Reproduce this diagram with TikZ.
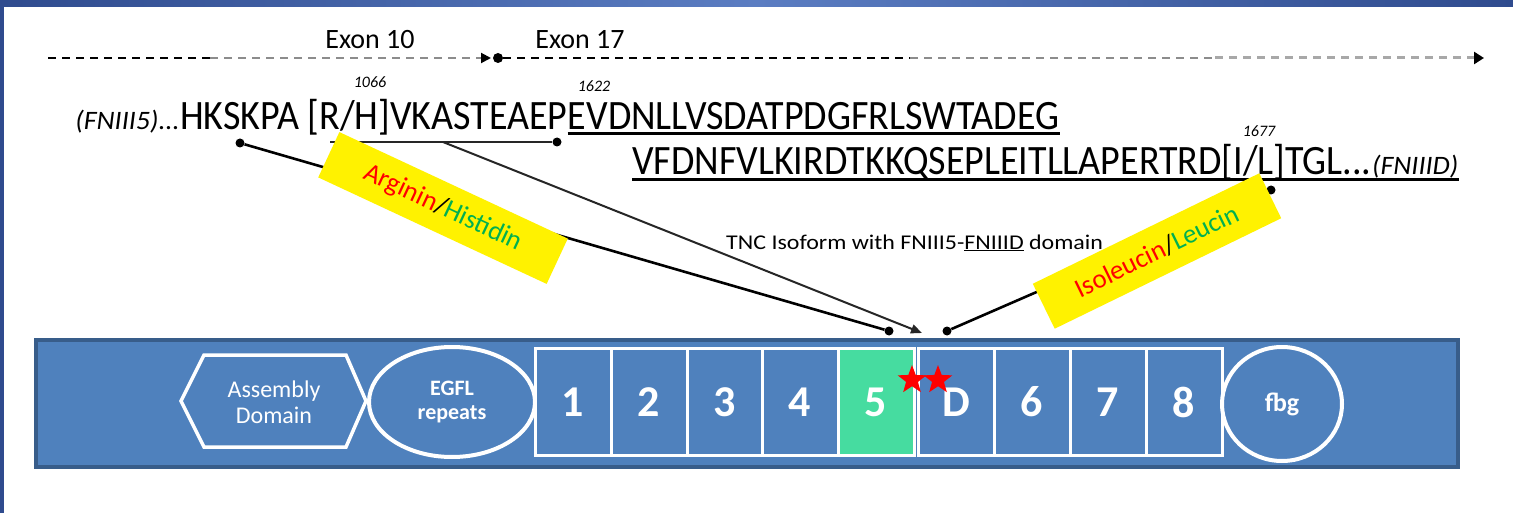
\documentclass[tikz,border=0pt]{standalone}
\usepackage{fontspec}
\setmainfont{Carlito}
\usetikzlibrary{shapes.geometric,arrows.meta}
\definecolor{barblue}{HTML}{4F81BD}
\definecolor{barborder}{HTML}{385D8A}
\definecolor{framedark}{HTML}{2F4B8E}
\definecolor{framelight}{HTML}{5B7DC2}
\definecolor{cellgreen}{HTML}{46DCA0}
\definecolor{hisgreen}{HTML}{00B050}
\definecolor{dashgray}{HTML}{8C8C8C}
\definecolor{dashlight}{HTML}{A8A8A8}
\newcommand{\fsz}[1]{\fontsize{#1}{#1}\selectfont}
\begin{document}
\begin{tikzpicture}[x=1pt,y=-1pt,
  cell/.style={draw=white, line width=3pt, fill=barblue, minimum width=76pt, minimum height=107pt, inner sep=0pt, text=white, font=\fsz{44}\bfseries},
  domring/.style={ellipse, draw=white, line width=4pt, fill=barblue, inner sep=0pt, text=white, align=center},
  seq/.style={anchor=base west, inner sep=0pt, font=\fsz{38}, yscale=1.1, transform shape},
  seqit/.style={inner sep=0pt, font=\fsz{28}\itshape, yscale=0.95, transform shape},
  posnum/.style={inner sep=0pt, font=\fsz{16}\itshape},
  uline/.style={line width=3pt, black},
  dashln/.style={line width=2pt, dash pattern=on 8pt off 6pt},
  dotn/.style={circle, fill=black, inner sep=0pt, minimum size=9pt},
  conn/.style={line width=2.6pt, black},
  tag/.style={fill=yellow, minimum width=252pt, minimum height=50pt, inner sep=0pt, font=\fsz{27}},
  redstar/.style={star, star points=5, star point ratio=2.4, fill=red, inner sep=0pt, minimum size=30pt}
]
\useasboundingbox (0,0) rectangle (1513,513);
\fill[white] (0,0) rectangle (1513,513);
% frame
\shade[left color=framedark, right color=framedark, middle color=framelight] (0,0) rectangle (1513,7);
\fill[framedark] (0,0) rectangle (4,513);

% exon dashed line
\coordinate (dstart) at (48,58);
\coordinate (dsplit) at (210,58);
\coordinate (dend10) at (491,58);
\node[dotn, minimum size=10pt] (junction) at (498,58) {};
\coordinate (dsplit2) at (910,58);
\coordinate (dsplit3) at (1215,58);
\coordinate (dend) at (1484,58);
\draw[dashln, black] (dstart) -- (dsplit);
\draw[dashln, dashgray, -{Triangle[length=10pt,width=10pt,fill=black,color=black]}] (dsplit) -- (dend10);
\draw[dashln, black] (junction) -- (dsplit2);
\draw[dashln, dashgray] (dsplit2) -- (dsplit3);
\draw[dashln, dashlight, line width=3pt, -{Triangle[length=10pt,width=12pt,fill=black,color=black]}] (dsplit3) -- (dend);
\node[font=\fsz{28}] (ex10) at (370,40) {Exon 10};
\node[font=\fsz{28}] (ex17) at (580,40) {Exon 17};

% position numbers
\node[posnum] (p1066) at (370,82) {1066};
\node[posnum] (p1622) at (594,86) {1622};
\node[posnum] (p1677) at (1259,131) {1677};

% sequence line 1
\node[seq] (s1b) at (180,130) {HKSKPA [R/H]VKASTEAEP};
\node[seqit, anchor=base east] (s1a) at (s1b.base west) {(FNIII5)...};
\node[seq] (s1c) at (s1b.base east) {EVDNLLVSDATPDGFRLSWTADEG};
\draw[uline] ([yshift=-4pt]s1c.base west) -- ([yshift=-4pt]s1c.base east);
% sequence line 2
\node[seq] (s2a) at (632,175) {VFDNFVLKIRDTKKQSEPLEITLLAPERTRD[I/L]TGL...};
\node[seqit, anchor=base west] (s2b) at (s2a.base east) {(FNIIID)};
\draw[uline] ([yshift=-5pt]s2a.base west) -- ([yshift=-5pt]s2b.base east);

% isoform text
\node[font=\fsz{21}, inner sep=0pt, anchor=west, xscale=1.14, transform shape] (iso) at (726,243) {TNC Isoform with FNIII5-\underline{FNIIID} domain};

% markers and connectors
\node[dotn] (rl) at (240,143) {};
\coordinate (hl) at (330,142);
\node[dotn] (hr) at (557,142) {};
\coordinate (hm) at (443,142);
\node[dotn] (il) at (1271,190) {};
\node[dotn] (e1) at (889,331) {};
\coordinate (e2) at (922,333);
\node[dotn] (e3) at (947,331) {};
\draw[conn] (rl) -- (e1);
\draw[line width=2pt, black!85] (hl) -- (hr);
\draw[line width=2pt, black!85, -{Triangle[length=11pt,width=9pt]}] (hm) -- (e2);
\draw[conn] (il) -- (e3);

% yellow tags
\node[tag, rotate=-25] (tagRH) at (443,208) {\textcolor{red}{Arginin}/\textcolor{hisgreen}{Histidin}};
\node[tag, rotate=26] (tagIL) at (1157,251) {\textcolor{red}{Isoleucin}/\textcolor{hisgreen}{Leucin}};

% domain bar
\node[draw=barborder, line width=4pt, fill=barblue, minimum width=1422pt, minimum height=127pt, inner sep=0pt] (bar) at (747,403) {};
\coordinate (hx1) at (181,401);
\coordinate (hx2) at (204,355);
\coordinate (hx3) at (346,355);
\coordinate (hx4) at (366,401);
\coordinate (hx5) at (346,447);
\coordinate (hx6) at (204,447);
\draw[white, line width=3.5pt, fill=barblue, line join=miter] (hx1) -- (hx2) -- (hx3) -- (hx4) -- (hx5) -- (hx6) -- cycle;
\node[text=white, align=center, font=\fsz{24}] (asm) at (274,402) {Assembly\\[2pt]Domain};
\node[domring, minimum width=166pt, minimum height=110pt, font=\fsz{22}\bfseries] (egfl) at (452,402) {EGFL\\[2pt]repeats};

\node[cell] (c1) at (573,402) {1};
\node[cell] (c2) at (649,402) {2};
\node[cell] (c3) at (725,402) {3};
\node[cell] (c4) at (800,402) {4};
\node[cell, fill=cellgreen] (c5) at (876,402) {5};
\node[cell] (cD) at (956,402) {D};
\node[cell] (c6) at (1032,402) {6};
\node[cell] (c7) at (1108,402) {7};
\node[cell] (c8) at (1184,402) {8};
\node[domring, minimum width=120pt, minimum height=114pt, font=\fsz{26}\bfseries] (fbg) at (1282,404) {fbg};

\node[redstar] (st1) at (912,380) {};
\node[redstar] (st2) at (938,380) {};
\end{tikzpicture}
\end{document}
